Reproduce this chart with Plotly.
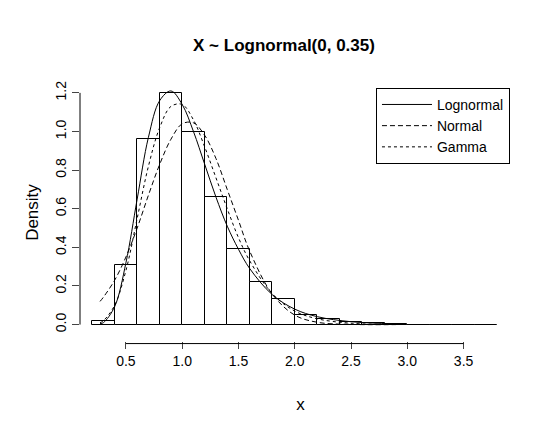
import plotly.graph_objects as go

# histogram (bin left edges, densities)
bin_left = [0.2, 0.4, 0.6, 0.8, 1.0, 1.2, 1.4, 1.6, 1.8, 2.0, 2.2, 2.4, 2.6, 2.8, 3.0, 3.2, 3.4, 3.6]
density = [0.02, 0.31, 0.96, 1.20, 1.00, 0.66, 0.39, 0.22, 0.13, 0.05, 0.03, 0.012, 0.006, 0.003, 0.0, 0.0, 0.0, 0.0]

curve_x = [0.27, 0.3, 0.4, 0.5, 0.6, 0.7, 0.8, 0.9, 1.0, 1.1, 1.2, 1.3, 1.4, 1.5, 1.6, 1.8, 2.0, 2.2, 2.5, 2.9]
lognormal_y = [0.005, 0.01, 0.093, 0.32, 0.65, 0.97, 1.16, 1.21, 1.14, 1.0, 0.83, 0.66, 0.51, 0.39, 0.29, 0.155, 0.08, 0.041, 0.015, 0.004]
normal_y = [0.12, 0.142, 0.23, 0.35, 0.50, 0.67, 0.83, 0.96, 1.04, 1.045, 0.98, 0.86, 0.70, 0.54, 0.38, 0.158, 0.049, 0.012, 0.001, 0.0]
gamma_y = [0.01, 0.02, 0.10, 0.28, 0.55, 0.82, 1.02, 1.13, 1.14, 1.06, 0.92, 0.76, 0.60, 0.45, 0.33, 0.16, 0.07, 0.03, 0.007, 0.001]

x_ticks = [0.5, 1.0, 1.5, 2.0, 2.5, 3.0, 3.5]
y_ticks = [0.0, 0.2, 0.4, 0.6, 0.8, 1.0, 1.2]

font = "Liberation Sans, Arial, sans-serif"

fig = go.Figure()
fig.add_trace(go.Bar(
    x=[b + 0.1 for b in bin_left], y=density, width=0.2,
    marker=dict(color="white", line=dict(color="black", width=1)),
    showlegend=False, hoverinfo="skip",
))
for name, ys, dash in [("Lognormal", lognormal_y, "solid"),
                       ("Normal", normal_y, "5px,3px"),
                       ("Gamma", gamma_y, "dot")]:
    fig.add_trace(go.Scatter(
        x=curve_x, y=ys, mode="lines", name=name,
        line=dict(color="black", width=1, dash=dash, shape="spline"),
    ))

# R-style axis lines spanning first to last tick
fig.add_shape(type="line", xref="x", yref="paper", x0=x_ticks[0], x1=x_ticks[-1],
              y0=-0.01, y1=-0.01, line=dict(color="black", width=1))
fig.add_shape(type="line", xref="paper", yref="y", x0=-0.0, x1=-0.0,
              y0=y_ticks[0], y1=y_ticks[-1], line=dict(color="black", width=1))

fig.update_layout(
    width=552, height=432,
    margin=dict(l=72, r=39, t=76, b=99),
    plot_bgcolor="white", paper_bgcolor="white",
    font=dict(family=font, size=14, color="black"),
    title=dict(text="<b>X ~ Lognormal(0, 0.35)</b>", x=0.5, xanchor="center",
               y=0.915, yanchor="middle", font=dict(size=17)),
    bargap=0,
    legend=dict(x=0.975, xanchor="right", y=0.985, yanchor="top",
                bordercolor="black", borderwidth=1, bgcolor="white",
                font=dict(size=14), tracegroupgap=0, itemwidth=50),
)
fig.update_xaxes(range=[0.092, 4.01], tickvals=x_ticks, ticktext=["0.5", "1.0", "1.5", "2.0", "2.5", "3.0", "3.5"],
                 ticks="outside", ticklen=7, showgrid=False, zeroline=False, showline=False,
                 title=dict(text="x", standoff=30))
fig.update_yaxes(range=[-0.085, 1.246], tickvals=y_ticks, ticktext=["0.0", "0.2", "0.4", "0.6", "0.8", "1.0", "1.2"],
                 tickangle=-90, ticks="outside", ticklen=7, showgrid=False, zeroline=False, showline=False,
                 title=dict(text="Density", standoff=10))

fig.write_html("out.html")
